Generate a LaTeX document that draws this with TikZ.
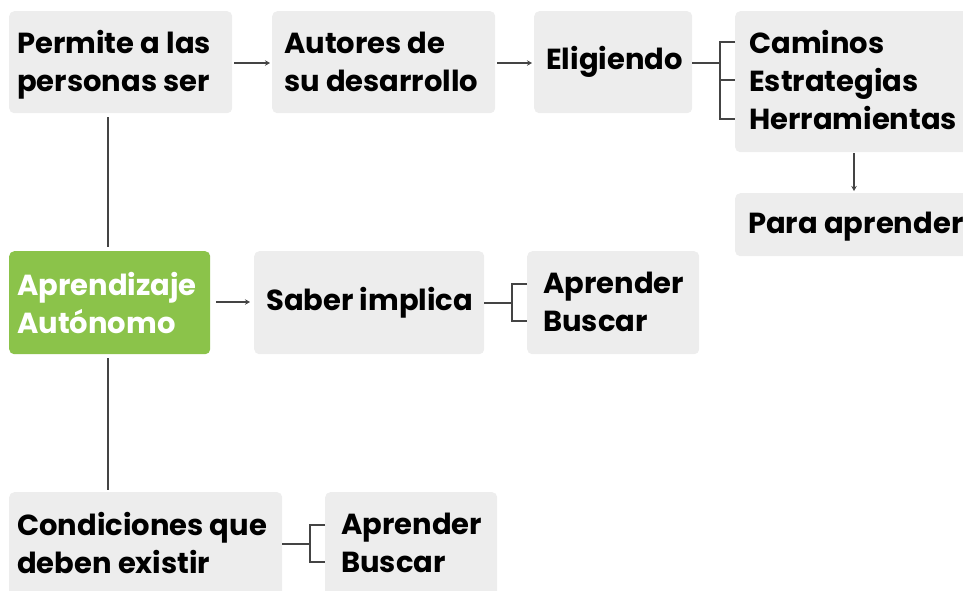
\documentclass[tikz,border=0pt]{standalone}
\usepackage{fontspec}
\setmainfont{Poppins}[BoldFont={* Bold}]
\usetikzlibrary{arrows.meta}
\definecolor{boxgrey}{HTML}{EDEDED}
\definecolor{leafgreen}{HTML}{8BC34A}
\definecolor{linegrey}{HTML}{444444}
\tikzset{
  box/.style={fill=boxgrey, rounded corners=5pt, inner sep=0pt, anchor=north west},
  greenbox/.style={box, fill=leafgreen},
  txt/.style={anchor=west, align=left, inner sep=0pt, font=\fontsize{29}{38}\selectfont\bfseries, text=black},
  wtxt/.style={txt, text=white},
  conn/.style={draw=linegrey, line width=1.3pt},
  arr/.style={conn, -{Stealth[length=5pt,width=5.5pt]}},
}
\begin{document}
\begin{tikzpicture}[x=1pt,y=-1pt]
\useasboundingbox (0,0) rectangle (963,590);
\begin{scope}
\clip (0,0) rectangle (963,590);
% boxes
\node[box, minimum width=223pt, minimum height=102pt] (b1) at (9,11) {};
\node[box, minimum width=223pt, minimum height=102pt] (b2) at (272,11) {};
\node[box, minimum width=158pt, minimum height=102pt] (b3) at (534,11) {};
\node[box, minimum width=240pt, minimum height=141pt] (b4) at (735,11) {};
\node[box, minimum width=240pt, minimum height=63pt] (b5) at (735,193) {};
\node[greenbox, minimum width=201pt, minimum height=103pt] (g) at (9,251) {};
\node[box, minimum width=230pt, minimum height=103pt] (b7) at (254,251) {};
\node[box, minimum width=172pt, minimum height=103pt] (b8) at (527,251) {};
\node[box, minimum width=273pt, minimum height=104pt] (b9) at (9,492) {};
\node[box, minimum width=172pt, minimum height=104pt] (b10) at (325,492) {};
% texts
\node[txt] (t1) at (17,65) {Permite a las\\personas ser};
\node[txt] (t2) at (284,62) {Autores de\\su desarrollo};
\node[txt] (t3) at (546,62) {Eligiendo};
\node[txt] (t4) at (749,80) {Caminos\\Estrategias\\Herramientas};
\node[txt] (t5) at (748,227) {Para aprender};
\node[wtxt] (tg) at (17,303) {Aprendizaje\\Autónomo};
\node[txt] (t7) at (266,303) {Saber implica};
\node[txt] (t8) at (543,302) {Aprender\\Buscar};
\node[txt] (t9) at (17,543) {Condiciones que\\deben existir};
\node[txt] (t10) at (341,543) {Aprender\\Buscar};
% arrows
\draw[arr, shorten <=2pt, shorten >=2pt] (b1.east |- 0,63) -- (b2.west |- 0,63);
\draw[arr, shorten <=2pt, shorten >=2pt] (b2.east |- 0,63) -- (b3.west |- 0,63);
\draw[arr, shorten <=1pt, shorten >=2pt] (b4.south -| 854,0) -- (b5.north -| 854,0);
\draw[arr, shorten <=6pt, shorten >=4pt] (g.east |- 0,302) -- (b7.west |- 0,302);
\draw[conn, shorten <=4pt, shorten >=4pt] (b1.south -| 108,0) -- (g.north -| 108,0);
\draw[conn, shorten <=4pt, shorten >=2pt] (g.south -| 108,0) -- (b9.north -| 108,0);
% brackets
\coordinate (k1) at (720,63);
\draw[conn] (b3.east |- k1) -- (k1);
\draw[conn] (b4.west |- 0,42) -- (720,42) -- (720,119) -- (b4.west |- 0,119);
\draw[conn] (720,80) -- (b4.west |- 0,80);
\coordinate (k2) at (512,303);
\draw[conn] (b7.east |- k2) -- (k2);
\draw[conn] (b8.west |- 0,284) -- (512,284) -- (512,321) -- (b8.west |- 0,321);
\coordinate (k3) at (310,544);
\draw[conn] (b9.east |- k3) -- (k3);
\draw[conn] (b10.west |- 0,525) -- (310,525) -- (310,562) -- (b10.west |- 0,562);
\end{scope}
\end{tikzpicture}
\end{document}
